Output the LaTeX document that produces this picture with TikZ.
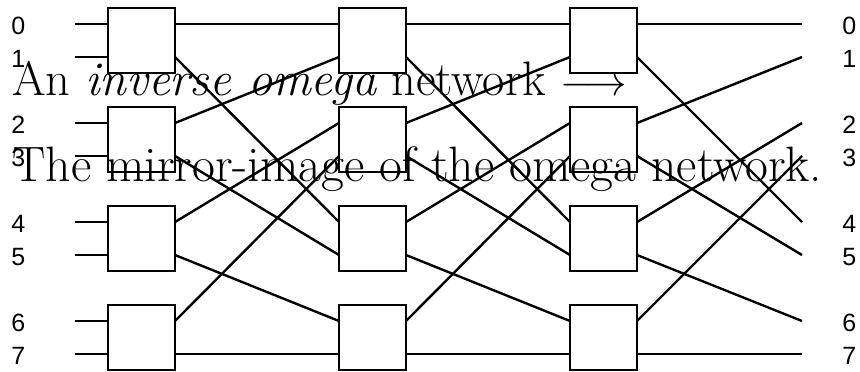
\documentclass[tikz,border=0pt]{standalone}
\usepackage{fontspec}
\usepackage{tikz}
\usetikzlibrary{positioning}
\newfontfamily\portfont{Liberation Sans}

\begin{document}
\begin{tikzpicture}[
    x=0.5pt, y=-0.5pt,
    switchbox/.style={draw, line width=1.2pt, minimum width=33.5pt, minimum height=32.5pt, inner sep=0pt, outer sep=0pt},
    wire/.style={line width=1.2pt},
    portlabel/.style={font=\portfont\fontsize{12.5}{13}\selectfont, anchor=west, inner sep=0pt},
    caption/.style={anchor=base west, inner sep=0pt}
]
\useasboundingbox (0,0) rectangle (860,371);

% === Switch boxes: 3 stages x 4 rows ===
\foreach \c/\x in {1/141.5, 2/372.5, 3/603.5} {
    \foreach \r in {0,...,3} {
        \node[switchbox] (s\c\r) at (\x, {40.5+99*\r}) {};
    }
}

% Port heights
\foreach \k/\y in {0/24, 1/57, 2/123, 3/156, 4/222, 5/255, 6/321, 7/354} {
    \coordinate (y\k) at (0, \y);
    \coordinate (src\k) at (75, \y);
    \coordinate (dst\k) at (802, \y);
    \node[portlabel] (lin\k) at (11, \y+2) {\k};
    \node[portlabel] (lout\k) at (842, \y+2) {\k};
}

% Ports on each box
\foreach \c in {1,2,3} {
    \foreach \k/\r in {0/0, 1/0, 2/1, 3/1, 4/2, 5/2, 6/3, 7/3} {
        \coordinate (in\c-\k) at (s\c\r.west |- y\k);
        \coordinate (out\c-\k) at (s\c\r.east |- y\k);
    }
}

% Inputs
\foreach \k in {0,...,7} {
    \draw[wire] (src\k) -- (in1-\k);
}

% Inverse shuffle between stages
\foreach \c/\n in {1/2, 2/3} {
    \foreach \k/\j in {0/0, 1/4, 2/1, 3/5, 4/2, 5/6, 6/3, 7/7} {
        \draw[wire] (out\c-\k) -- (in\n-\j);
    }
}

% Outputs
\foreach \k/\j in {0/0, 1/4, 2/1, 3/5, 4/2, 5/6, 6/3, 7/7} {
    \draw[wire] (out3-\k) -- (dst\j);
}

% Captions
\node[caption, font=\fontsize{24.2}{29}\selectfont] (title) at (12, 95)
    {An \emph{inverse omega} network {\huge$\longrightarrow$}};
\node[caption, font=\fontsize{24.87}{30}\selectfont] (note) at (12, 181)
    {The mirror-image of the omega network.};

\end{tikzpicture}
\end{document}
